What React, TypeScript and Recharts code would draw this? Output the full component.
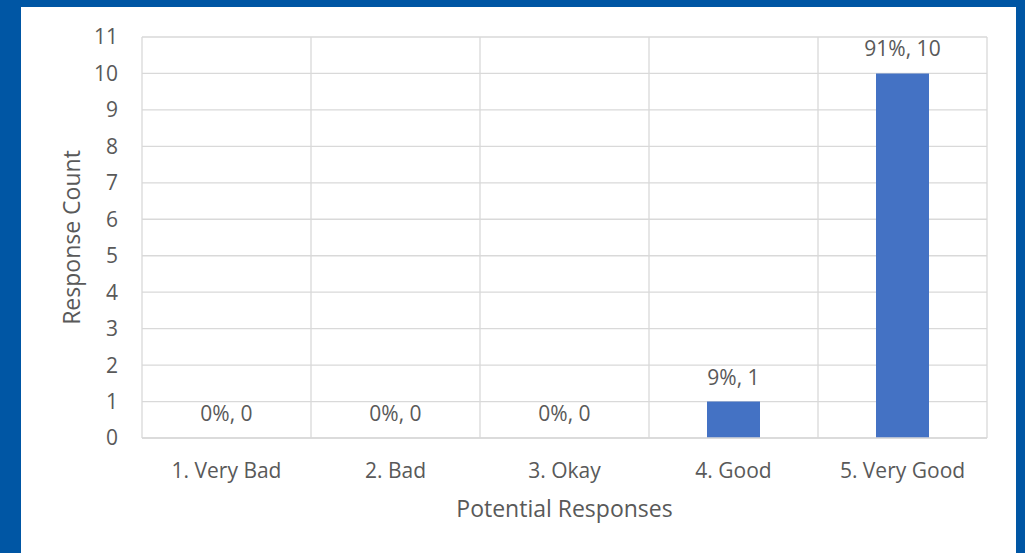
import React from 'react';
import { ComposedChart, Bar, Line, XAxis, YAxis, CartesianGrid, LabelList, Label } from 'recharts';

const categories = ['1. Very Bad', '2. Bad', '3. Okay', '4. Good', '5. Very Good'];
const counts = [0, 0, 0, 1, 10];
const yTicks = [0, 1, 2, 3, 4, 5, 6, 7, 8, 9, 10, 11];

const total = counts.reduce((a, b) => a + b, 0);
const data = categories.map((name, i) => ({ name, count: counts[i] }));

const FONT = '"Open Sans", sans-serif';
const TEXT = '#595959';
const GRID = '#D9D9D9';

export default function App() {
  const yTitle = (props: any) => {
    const vb = props.viewBox;
    const cx = 71;
    const cy = vb.y + vb.height / 2;
    return (
      <text
        x={cx}
        y={cy}
        transform={`rotate(-90, ${cx}, ${cy})`}
        textAnchor="middle"
        dominantBaseline="central"
        fill={TEXT}
        fontSize={23}
        fontFamily={FONT}
      >
        Response Count
      </text>
    );
  };

  return (
    <div style={{ position: 'absolute', left: 0, top: 0, width: 1025, height: 553, background: '#0056A4', overflow: 'hidden' }}>
      <div style={{ position: 'absolute', left: 21, top: 7, width: 995, height: 546, background: '#ffffff' }} />
      <div style={{ position: 'absolute', left: 0, top: 0 }}>
        <ComposedChart
          width={1025}
          height={553}
          data={data}
          margin={{ top: 37, right: 38, left: 82, bottom: 85 }}
          style={{ fontFamily: FONT }}
        >
          <CartesianGrid
            stroke={GRID}
            strokeWidth={1.3}
            verticalCoordinatesGenerator={({ offset }: any) =>
              categories.map((_, i) => offset.left + (i * offset.width) / categories.length).concat(offset.left + offset.width)
            }
          />
          <XAxis
            dataKey="name"
            height={30}
            tick={{ fill: TEXT, fontSize: 21, fontFamily: FONT }}
            tickLine={false}
            tickSize={6}
            tickMargin={19}
            interval={0}
            axisLine={{ stroke: GRID, strokeWidth: 1.3 }}
          >
            <Label value="Potential Responses" position="bottom" offset={33} fill={TEXT} fontSize={23} fontFamily={FONT} />
          </XAxis>
          <YAxis
            width={60}
            domain={[0, 11]}
            ticks={yTicks}
            interval={0}
            tick={{ fill: TEXT, fontSize: 21, fontFamily: FONT }}
            tickLine={false}
            tickSize={6}
            tickMargin={18}
            axisLine={false}
          >
            <Label content={yTitle} />
          </YAxis>
          <Bar dataKey="count" fill="#4472C4" barSize={53} isAnimationActive={false} />
          <Line dataKey="count" stroke="none" dot={false} activeDot={false} isAnimationActive={false}>
            <LabelList
              dataKey="count"
              position="top"
              offset={17}
              fill={TEXT}
              fontSize={21}
              fontFamily={FONT}
              formatter={(v: any) => {
                const pct = total ? Math.round((Number(v) / total) * 100) : 0;
                return `${pct}%, ${v}`;
              }}
            />
          </Line>
        </ComposedChart>
      </div>
    </div>
  );
}
